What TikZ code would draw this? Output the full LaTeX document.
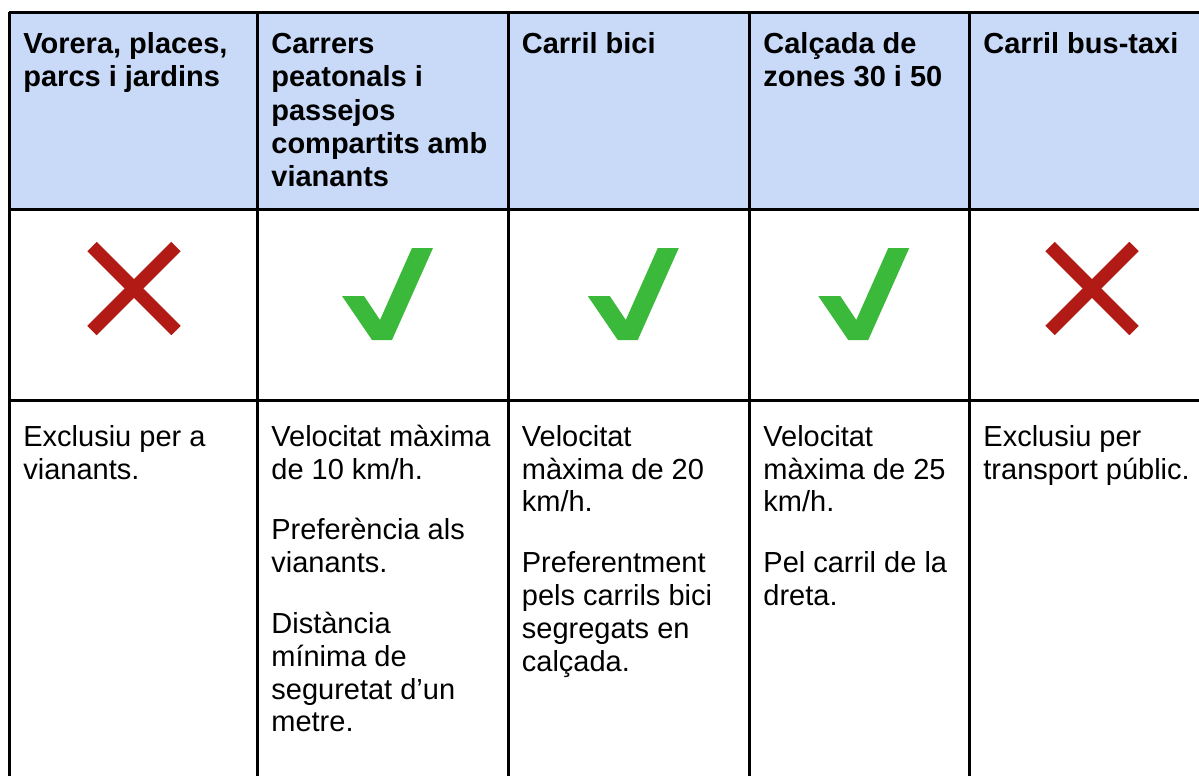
\documentclass[tikz,border=0pt]{standalone}
\usepackage{fontspec}
\setmainfont{Liberation Sans}
\usepackage{tikz}

\definecolor{headblue}{HTML}{C9DAF8}
\definecolor{tickgreen}{HTML}{3BB93B}
\definecolor{crossred}{HTML}{B11A15}

\begin{document}
\begin{tikzpicture}[x=0.5pt, y=-0.5pt,
grid/.style={line width=1.5pt, black},
header/.style={anchor=north west, inner sep=0pt, align=left, font=\fontsize{14.5}{16.7}\selectfont\bfseries},
body/.style={anchor=north west, inner sep=0pt, align=left, font=\fontsize{14.5}{16.4}\selectfont},
cross/.style={crossred, line width=6.6pt},
tick/.style={fill=tickgreen}]

\useasboundingbox (0,0) rectangle (1199,776);

% Header row
\fill[headblue] (9,12) rectangle (1199,209);

% Icons
\draw[cross] (92,246.5) -- (176,330.5);
\draw[cross] (92,330.5) -- (176,246.5);

\fill[tick] (342,296) -- (364,296) -- (380,320) -- (412,248) -- (433,248) -- (392,340) -- (372,340) -- cycle;
\fill[tick, shift={(245.75,0)}] (342,296) -- (364,296) -- (380,320) -- (412,248) -- (433,248) -- (392,340) -- (372,340) -- cycle;
\fill[tick, shift={(476.25,0)}] (342,296) -- (364,296) -- (380,320) -- (412,248) -- (433,248) -- (392,340) -- (372,340) -- cycle;

\draw[cross] (1050,246.5) -- (1134,330.5);
\draw[cross] (1050,330.5) -- (1134,246.5);

% Grid
\draw[grid] (9,12) -- (1199,12);
\draw[grid] (9,209) -- (1199,209);
\draw[grid] (9,400) -- (1199,400);
\draw[grid] (9,12) -- (9,776);
\draw[grid] (257.5,12) -- (257.5,776);
\draw[grid] (508,12) -- (508,776);
\draw[grid] (749,12) -- (749,776);
\draw[grid] (969,12) -- (969,776);

% Header text
\node[header] (h1) at (23,29.6) {\strut Vorera, places,\\parcs i jardins};
\node[header] (h2) at (271,29.6) {\strut Carrers\\peatonals i\\passejos\\compartits amb\\vianants};
\node[header] (h3) at (521.5,29.6) {\strut Carril bici};
\node[header] (h4) at (763,29.6) {\strut Calçada de\\zones 30 i 50};
\node[header] (h5) at (983,29.6) {\strut Carril bus-taxi};

% Body text
\node[body] (b1) at (23,423) {\strut Exclusiu per a\\vianants.};
\node[body] (b2) at (271,423) {\strut Velocitat màxima\\de 10 km/h.\\[14pt]Preferència als\\vianants.\\[14pt]Distància\\mínima de\\seguretat d’un\\metre.};
\node[body] (b3) at (521.5,423) {\strut Velocitat\\màxima de 20\\km/h.\\[14pt]Preferentment\\pels carrils bici\\segregats en\\calçada.};
\node[body] (b4) at (763,423) {\strut Velocitat\\màxima de 25\\km/h.\\[14pt]Pel carril de la\\dreta.};
\node[body] (b5) at (983,423) {\strut Exclusiu per\\transport públic.};
\end{tikzpicture}
\end{document}
